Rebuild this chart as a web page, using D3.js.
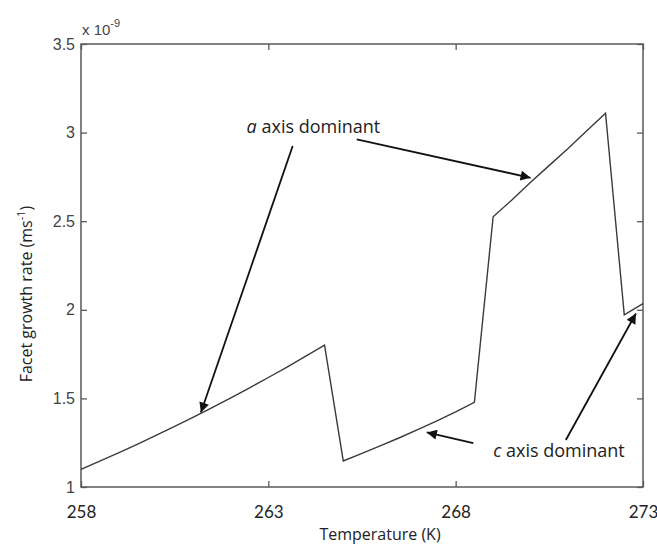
<!DOCTYPE html>
<html>
<head>
<meta charset="utf-8">
<script src="https://cdn.jsdelivr.net/npm/d3@7"></script>
<style>
  body { margin: 0; background: #fff; }
  svg { display: block; }
</style>
</head>
<body>
<svg id="chart" width="657" height="544"></svg>
<script>
// temperature (K) and facet growth rate (x 1e-9 m/s)
const temperature = [258, 258.5, 259, 259.5, 260, 260.5, 261, 261.5, 262, 262.5, 263, 263.5, 264, 264.5,
                     265, 265.5, 266, 266.5, 267, 267.5, 268, 268.5,
                     269, 269.5, 270, 270.5, 271, 271.5, 272,
                     272.5, 273];
const growthRate = [1.100, 1.146, 1.193, 1.241, 1.291, 1.342, 1.394, 1.448, 1.503, 1.560, 1.618, 1.677, 1.738, 1.800,
                    1.147, 1.190, 1.233, 1.278, 1.325, 1.373, 1.424, 1.478,
                    2.525, 2.620, 2.720, 2.815, 2.910, 3.010, 3.109,
                    1.971, 2.035];

const xTicks = [258, 263, 268, 273];
const yTicks = [1, 1.5, 2, 2.5, 3, 3.5];
const yTickLabels = ['1', '1.5', '2', '2.5', '3', '3.5'];

// annotations: label anchor and arrows (tail -> head), in data units
const annLabels = [
  {ital: 'a', rest: ' axis dominant', t: 262.42, v: 2.998},
  {ital: 'c', rest: ' axis dominant', t: 269.0, v: 1.169}
];
const annArrows = [
  {t0: 263.65, v0: 2.924, t1: 261.20, v1: 1.420},
  {t0: 265.36, v0: 2.962, t1: 270.00, v1: 2.745},
  {t0: 268.47, v0: 1.247, t1: 267.23, v1: 1.308},
  {t0: 270.94, v0: 1.265, t1: 272.81, v1: 1.979}
];

const W = 657, H = 544;
const margin = {top: 44, right: 14, bottom: 57, left: 81};
const iw = W - margin.left - margin.right;
const ih = H - margin.top - margin.bottom;

const svg = d3.select('#chart');
const g = svg.append('g').attr('transform', `translate(${margin.left},${margin.top})`);

const x = d3.scaleLinear().domain([258, 273]).range([0, iw]);
const y = d3.scaleLinear().domain([1, 3.5]).range([ih, 0]);

const axisColor = '#5a5a5a';
const textFont = '"Open Sans", Lato, sans-serif';

// box frame
g.append('rect').attr('width', iw).attr('height', ih)
  .attr('fill', 'none').attr('stroke', axisColor).attr('stroke-width', 1.5);

// ticks (inward, all four sides)
const tickLen = 6;
g.append('g').attr('transform', `translate(0,${ih})`)
  .call(d3.axisBottom(x).tickValues(xTicks).tickSizeInner(-tickLen).tickSizeOuter(0).tickPadding(19))
  .call(a => a.select('.domain').remove())
  .call(a => a.selectAll('line').attr('stroke', axisColor).attr('stroke-width', 1.3))
  .call(a => a.selectAll('text').attr('font-family', 'Lato, "Open Sans", sans-serif')
    .attr('font-size', 17).attr('fill', '#222').attr('dy', '0.71em'));
g.append('g')
  .call(d3.axisTop(x).tickValues(xTicks).tickSizeInner(-tickLen).tickSizeOuter(0).tickFormat(''))
  .call(a => a.select('.domain').remove())
  .call(a => a.selectAll('line').attr('stroke', axisColor).attr('stroke-width', 1.3));
g.append('g')
  .call(d3.axisLeft(y).tickValues(yTicks).tickSizeInner(-tickLen).tickSizeOuter(0).tickPadding(6)
    .tickFormat((d, i) => yTickLabels[i]))
  .call(a => a.select('.domain').remove())
  .call(a => a.selectAll('line').attr('stroke', axisColor).attr('stroke-width', 1.3))
  .call(a => a.selectAll('text').attr('font-family', '"Liberation Sans", Arial, sans-serif')
    .attr('font-size', 16).attr('fill', '#444'));
g.append('g').attr('transform', `translate(${iw},0)`)
  .call(d3.axisRight(y).tickValues(yTicks).tickSizeInner(-tickLen).tickSizeOuter(0).tickFormat(''))
  .call(a => a.select('.domain').remove())
  .call(a => a.selectAll('line').attr('stroke', axisColor).attr('stroke-width', 1.3));

// exponent label
const expo = g.append('text').attr('x', 1).attr('y', -9)
  .attr('font-family', '"Liberation Sans", Arial, sans-serif').attr('font-size', 15).attr('fill', '#444');
expo.append('tspan').text('x 10');
expo.append('tspan').attr('font-size', 11).attr('dy', -8).text('-9');

// data line
const line = d3.line().x((d, i) => x(temperature[i])).y(d => y(d));
g.append('path').datum(growthRate)
  .attr('d', line)
  .attr('fill', 'none').attr('stroke', '#3a3a3a').attr('stroke-width', 1.4)
  .attr('stroke-linejoin', 'miter');

// arrow marker
svg.append('defs').append('marker')
  .attr('id', 'head').attr('viewBox', '0 0 10 10').attr('refX', 10).attr('refY', 5)
  .attr('markerWidth', 13).attr('markerHeight', 10).attr('markerUnits', 'userSpaceOnUse')
  .attr('orient', 'auto')
  .append('path').attr('d', 'M0,0L10,5L0,10Z').attr('fill', '#111');

g.selectAll('.arrow').data(annArrows).enter().append('line')
  .attr('class', 'arrow')
  .attr('x1', d => x(d.t0)).attr('y1', d => y(d.v0))
  .attr('x2', d => x(d.t1)).attr('y2', d => y(d.v1))
  .attr('stroke', '#111').attr('stroke-width', 1.8)
  .attr('marker-end', 'url(#head)');

const ann = g.selectAll('.ann').data(annLabels).enter().append('text')
  .attr('class', 'ann')
  .attr('x', d => x(d.t)).attr('y', d => y(d.v))
  .attr('font-family', textFont).attr('font-size', 18).attr('fill', '#222');
ann.append('tspan').attr('font-style', 'italic').text(d => d.ital);
ann.append('tspan').text(d => d.rest);

// axis titles
svg.append('text')
  .attr('x', 380).attr('y', 540)
  .attr('text-anchor', 'middle')
  .attr('font-family', textFont).attr('font-size', 16).attr('fill', '#222')
  .text('Temperature (K)');

const yl = svg.append('text')
  .attr('transform', 'translate(32,294) rotate(-90)')
  .attr('text-anchor', 'middle')
  .attr('font-family', textFont).attr('font-size', 16).attr('fill', '#222');
yl.append('tspan').text('Facet growth rate (ms');
yl.append('tspan').attr('font-size', 11).attr('dy', -7).text('-1');
yl.append('tspan').attr('dy', 7).text(')');
</script>
</body>
</html>
